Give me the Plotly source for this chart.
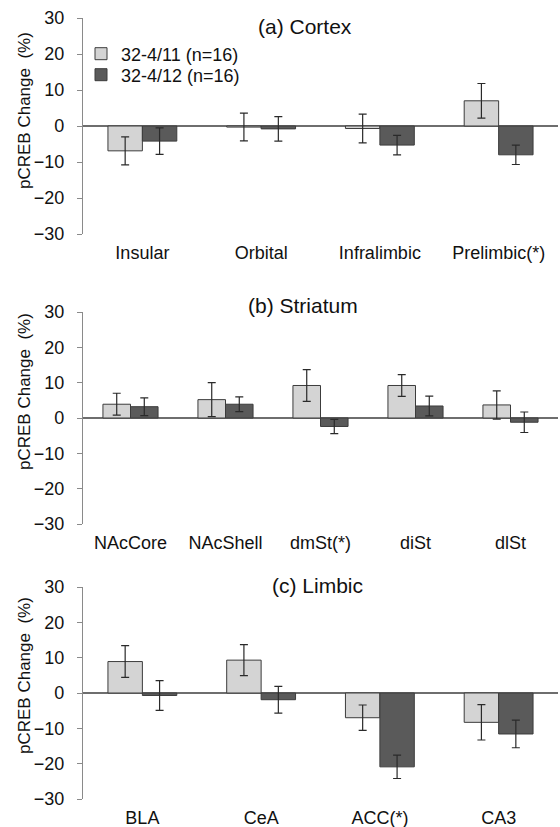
import plotly.graph_objects as go

# ---- data ----
series_names = ["32-4/11 (n=16)", "32-4/12 (n=16)"]

cortex_regions = ["Insular", "Orbital", "Infralimbic", "Prelimbic(*)"]
cortex_a = [-6.9, -0.3, -0.7, 7.0]
cortex_a_err = [3.9, 3.85, 4.0, 4.8]
cortex_b = [-4.2, -0.8, -5.3, -8.0]
cortex_b_err = [3.7, 3.4, 2.7, 2.7]

striatum_regions = ["NAcCore", "NAcShell", "dmSt(*)", "diSt", "dlSt"]
striatum_a = [3.9, 5.2, 9.2, 9.2, 3.7]
striatum_a_err = [3.1, 4.8, 4.5, 3.1, 4.0]
striatum_b = [3.2, 3.9, -2.4, 3.4, -1.2]
striatum_b_err = [2.5, 2.1, 2.0, 2.8, 2.9]

limbic_regions = ["BLA", "CeA", "ACC(*)", "CA3"]
limbic_a = [8.9, 9.3, -7.0, -8.3]
limbic_a_err = [4.5, 4.4, 3.6, 5.0]
limbic_b = [-0.7, -1.9, -20.9, -11.6]
limbic_b_err = [4.2, 3.8, 3.3, 3.9]

panel_titles = ["(a) Cortex", "(b) Striatum", "(c) Limbic"]
y_ticks = [-30, -20, -10, 0, 10, 20, 30]

# ---- style ----
FONT = "Liberation Sans, Arial, sans-serif"
LIGHT = "#d4d4d4"
DARK = "#5a5a5a"
EDGE = "#3c3c3c"
AXIS = "#8a8a8a"
W, H = 560, 827
L, R = 83, 2
PW = W - L - R

panels = [
    (cortex_regions, cortex_a, cortex_a_err, cortex_b, cortex_b_err),
    (striatum_regions, striatum_a, striatum_a_err, striatum_b, striatum_b_err),
    (limbic_regions, limbic_a, limbic_a_err, limbic_b, limbic_b_err),
]
# pixel extents (top, bottom) of each plot area
panel_px = [(18, 234), (312, 524), (587, 799)]
title_pos = [(305, 27), (303, 306), (317, 585)]
ytitle_cy = [111, 392, 676]
legend_rows = [54, 75]

fig = go.Figure()
for i, (cats, va, ea, vb, eb) in enumerate(panels):
    n = "" if i == 0 else str(i + 1)
    for k, (vals, errs, color) in enumerate(((va, ea, LIGHT), (vb, eb, DARK))):
        fig.add_trace(go.Bar(
            x=cats, y=vals, name=series_names[k], legendgroup=series_names[k], showlegend=(i == 0),
            legend="legend" if k == 0 else "legend2",
            marker=dict(color=color, line=dict(color=EDGE, width=1)),
            error_y=dict(type="data", array=errs, visible=True, color="#2a2a2a", thickness=1.2, width=4),
            xaxis="x" + n, yaxis="y" + n,
        ))

leg_common = dict(x=(81 - L) / PW, xanchor="left", yanchor="middle",
                  font=dict(size=18, family=FONT), bgcolor="rgba(0,0,0,0)",
                  itemwidth=30, borderwidth=0)
layout = dict(
    width=W, height=H,
    margin=dict(l=L, r=R, t=0, b=0, autoexpand=False),
    paper_bgcolor="white", plot_bgcolor="white",
    barmode="group", bargap=0.42, bargroupgap=0,
    font=dict(family=FONT, color="#111", size=16),
    legend=dict(y=1 - legend_rows[0] / H, **leg_common),
    legend2=dict(y=1 - legend_rows[1] / H, **leg_common),
    showlegend=True,
)
annotations = []
for i in range(3):
    n = "" if i == 0 else str(i + 1)
    top, bot = panel_px[i]
    dom = [1 - bot / H, 1 - top / H]
    layout["xaxis" + n] = dict(domain=[0, 1], anchor="y" + n, showline=False, showgrid=False,
                               zeroline=False, ticks="", tickfont=dict(size=18),
                               ticklabelstandoff=6, automargin=False, fixedrange=True)
    layout["yaxis" + n] = dict(domain=dom, anchor="x" + n, range=[-30, 30], tickvals=y_ticks,
                               showline=True, linecolor=AXIS, linewidth=1.2,
                               ticks="outside", ticklen=5, tickcolor=AXIS,
                               showgrid=False, zeroline=True, zerolinecolor="#6e6e6e",
                               zerolinewidth=1.5, tickfont=dict(size=18),
                               ticklabelstandoff=9, automargin=False, fixedrange=True)
    tx, ty = title_pos[i]
    annotations.append(dict(text=panel_titles[i], x=(tx - L) / PW, y=1 - ty / H,
                            xref="paper", yref="paper", showarrow=False,
                            xanchor="center", yanchor="middle", font=dict(size=21)))
    annotations.append(dict(text="pCREB Change  (%)", x=(24 - L) / PW, y=1 - ytitle_cy[i] / H,
                            xref="paper", yref="paper", showarrow=False, textangle=-90,
                            xanchor="center", yanchor="middle", font=dict(size=17)))
layout["annotations"] = annotations
fig.update_layout(**layout)

fig.write_html("out.html", config={"displayModeBar": False},
               post_script="document.body.style.margin='0';document.body.style.padding='0';"
                           "document.body.style.overflow='hidden';")
